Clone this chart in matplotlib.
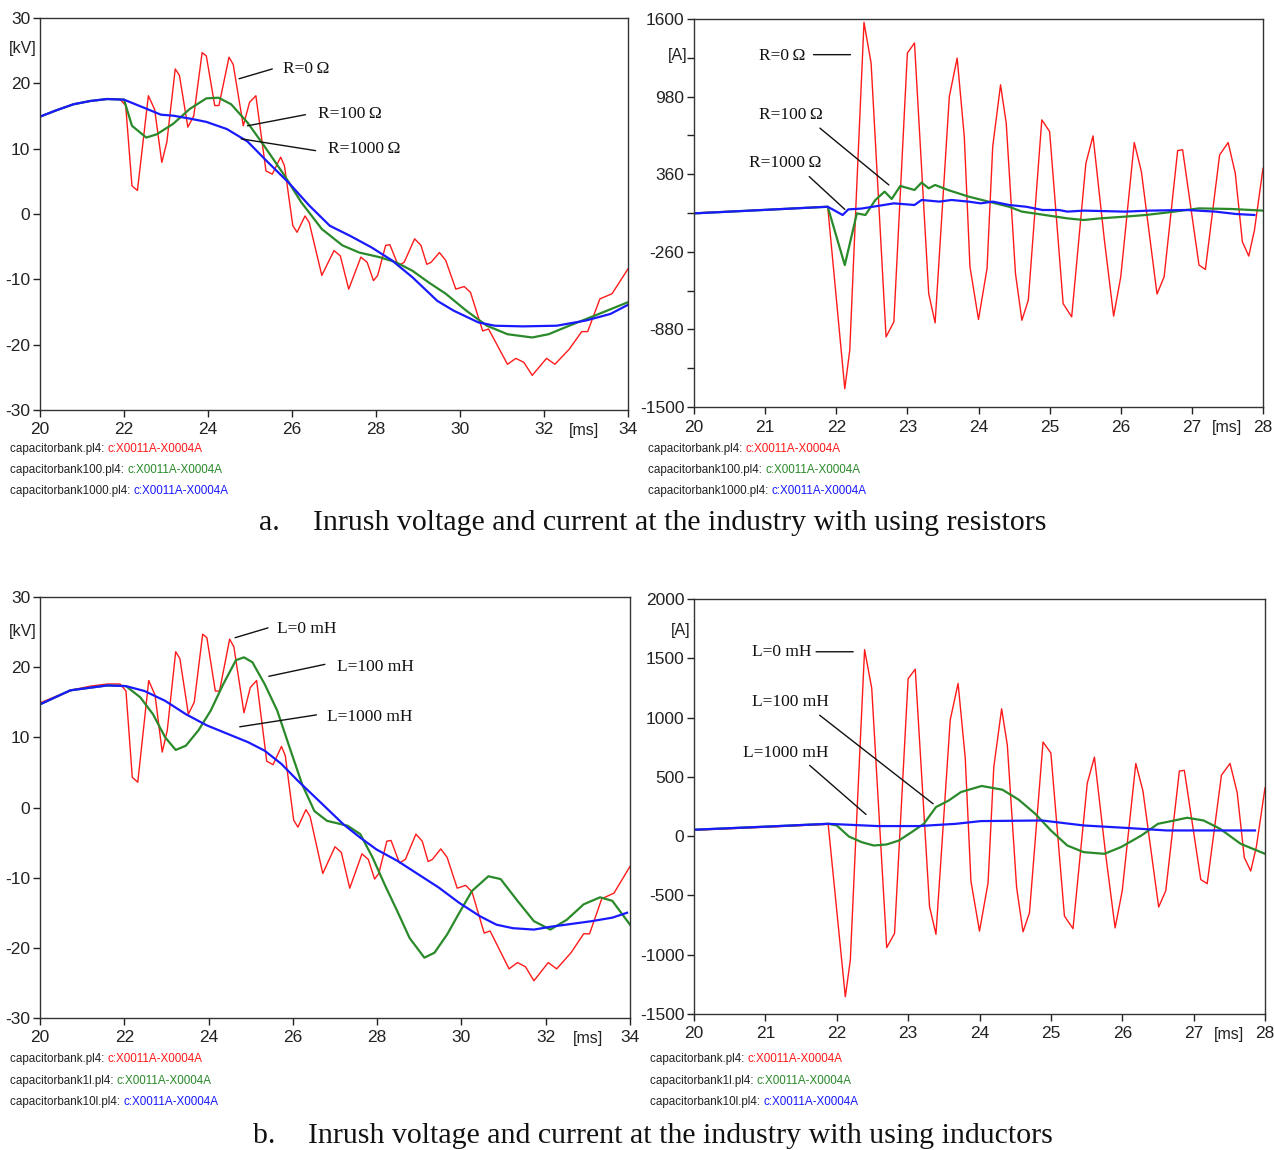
import matplotlib
matplotlib.use("Agg")
import matplotlib.pyplot as plt
from matplotlib.ticker import FixedLocator

# ---------------- data ----------------
# Voltage, R=0 / L=0 (capacitorbank.pl4) [kV]
t_v_red = [20, 20.4, 20.8, 21.2, 21.6, 21.9, 22.04, 22.19, 22.32, 22.58, 22.73, 22.9, 23.02, 23.22, 23.32,
           23.52, 23.66, 23.86, 23.96, 24.16, 24.26, 24.5, 24.6, 24.84, 24.99, 25.14, 25.38, 25.53, 25.73,
           25.82, 26.02, 26.12, 26.31, 26.41, 26.71, 27.0, 27.15, 27.35, 27.64, 27.79, 27.94, 28.04, 28.23,
           28.33, 28.53, 28.67, 28.92, 29.07, 29.21, 29.31, 29.51, 29.66, 29.9, 30.1, 30.25, 30.54, 30.68,
           31.13, 31.33, 31.52, 31.72, 32.06, 32.26, 32.6, 32.9, 33.04, 33.33, 33.62, 34]
v_red = [14.9, 15.9, 16.8, 17.3, 17.6, 17.6, 16.6, 4.3, 3.6, 18.1, 16.0, 7.9, 11.0, 22.2, 21.2,
         13.3, 15.0, 24.7, 24.2, 16.6, 16.6, 24.0, 22.9, 13.5, 17.1, 18.1, 6.6, 6.1, 8.7,
         7.4, -1.8, -2.8, -0.3, -1.3, -9.4, -5.6, -6.4, -11.5, -6.6, -7.4, -10.2, -9.4, -4.8,
         -4.7, -7.9, -7.4, -3.8, -4.8, -7.7, -7.4, -5.9, -7.1, -11.5, -11.1, -12.0, -17.9, -17.6,
         -23.0, -22.1, -22.7, -24.7, -22.1, -23.0, -20.7, -18.0, -18.0, -13.0, -12.2, -8.4]

# Voltage, R=100 ohm
t_v_r100 = [20, 20.4, 20.8, 21.2, 21.6, 22.0, 22.19, 22.53, 22.78, 23.17, 23.57, 23.96, 24.25, 24.55, 24.94,
            25.33, 25.82, 26.22, 26.71, 27.2, 27.6, 28.08, 28.48, 28.87, 29.26, 29.66, 30.15, 30.64, 31.13,
            31.72, 32.11, 32.6, 33.19, 34]
v_r100 = [14.9, 15.9, 16.8, 17.3, 17.6, 17.5, 13.5, 11.7, 12.2, 13.8, 16.1, 17.7, 17.8, 16.8, 14.0,
          10.5, 5.9, 1.8, -2.3, -4.8, -5.9, -6.6, -7.4, -8.7, -10.5, -12.2, -14.8, -17.1, -18.4,
          -18.9, -18.4, -17.1, -15.6, -13.5]

# Voltage, R=1000 ohm
t_v_r1000 = [20, 20.4, 20.8, 21.2, 21.6, 22.0, 22.5, 22.88, 23.17, 23.57, 23.96, 24.45, 24.94, 25.43, 25.92,
             26.41, 26.9, 27.4, 27.89, 28.38, 28.87, 29.46, 29.85, 30.44, 30.83, 31.5, 32.3, 33.0, 33.58, 34]
v_r1000 = [14.9, 15.9, 16.8, 17.3, 17.6, 17.5, 16.2, 15.2, 15.05, 14.6, 14.1, 13.0, 11.1, 7.9, 4.8,
           1.3, -1.8, -3.4, -5.1, -7.1, -9.7, -13.3, -14.8, -16.6, -17.1, -17.2, -17.1, -16.3, -15.3, -13.9]

# Voltage, L=100 mH
t_v_l100 = [20, 20.72, 21.6, 22.04, 22.38, 22.68, 22.97, 23.22, 23.46, 23.76, 24.05, 24.35, 24.65, 24.84,
            25.04, 25.33, 25.63, 25.92, 26.22, 26.51, 26.81, 27.3, 27.6, 27.89, 28.18, 28.48, 28.77, 29.12,
            29.36, 29.66, 29.95, 30.25, 30.64, 30.93, 31.33, 31.72, 32.11, 32.5, 32.9, 33.29, 33.58, 34]
v_l100 = [14.7, 16.7, 17.4, 17.3, 15.7, 13.3, 10.0, 8.2, 8.8, 11.0, 13.8, 17.6, 21.0, 21.4,
          20.7, 17.6, 13.8, 8.6, 3.3, -0.5, -1.9, -2.6, -3.8, -7.1, -11.0, -14.8, -18.6, -21.4,
          -20.7, -18.1, -15.0, -11.9, -9.8, -10.2, -13.3, -16.2, -17.4, -16.0, -13.8, -12.8, -13.3, -16.7]

# Voltage, L=1000 mH
t_v_l1000 = [20, 20.72, 21.6, 22.04, 22.48, 22.97, 23.46, 23.96, 24.45, 24.94, 25.33, 25.73, 26.12, 26.61,
             27.2, 27.6, 27.99, 28.48, 28.97, 29.46, 29.95, 30.44, 30.83, 31.22, 31.72, 32.11, 32.6, 33.09,
             33.58, 33.93]
v_l1000 = [14.7, 16.7, 17.4, 17.3, 16.6, 15.2, 13.3, 11.7, 10.5, 9.3, 8.1, 6.2, 3.8, 1.0,
           -2.4, -4.3, -6.0, -7.6, -9.5, -11.4, -13.6, -15.5, -16.7, -17.2, -17.4, -17.0, -16.6, -16.2,
           -15.7, -15.0]

# Current, R=0 / L=0 (capacitorbank.pl4) [A]
t_i_red = [20, 21.0, 21.88, 22.12, 22.19, 22.28, 22.39, 22.49, 22.7, 22.81, 23.0, 23.1, 23.3, 23.39, 23.59,
           23.7, 23.8, 23.88, 24.0, 24.12, 24.2, 24.31, 24.39, 24.52, 24.61, 24.7, 24.89, 25.0, 25.19, 25.31,
           25.51, 25.61, 25.77, 25.9, 26.0, 26.19, 26.29, 26.51, 26.61, 26.8, 26.87, 27.1, 27.19, 27.39,
           27.51, 27.61, 27.71, 27.8, 27.88, 28.0]
i_red = [50, 75, 100, -1354, -1047, 154, 1573, 1248, -940, -820, 1328, 1408, -594, -828, 981,
         1288, 661, -380, -801, -394, 581, 1074, 767, -434, -807, -647, 794, 701, -674, -780,
         447, 666, -166, -774, -460, 613, 381, -598, -460, 549, 555, -366, -401, 514,
         613, 368, -180, -294, -86, 407]

# Current, R=100 ohm
t_i_r100 = [20, 21.0, 21.88, 22.12, 22.29, 22.41, 22.55, 22.68, 22.78, 22.9, 23.1, 23.2, 23.3, 23.39, 23.57,
            23.86, 24.14, 24.43, 24.61, 24.78, 25.25, 25.48, 25.71, 26.06, 26.35, 26.64, 27.1, 27.56, 28.0]
i_r100 = [47, 75, 100, -366, 47, 34, 154, 221, 162, 266, 234, 293, 247, 274, 234,
          181, 141, 100, 61, 47, 7, -6, 7, 21, 34, 53, 87, 82, 69]

# Current, R=1000 ohm
t_i_r1000 = [20, 21.0, 21.88, 22.09, 22.17, 22.35, 22.58, 22.81, 23.1, 23.2, 23.45, 23.62, 23.86, 24.03,
             24.2, 24.43, 24.67, 24.9, 25.13, 25.25, 25.48, 26.06, 26.4, 26.93, 27.33, 27.62, 27.88]
i_r1000 = [47, 75, 100, 34, 79, 85, 106, 127, 114, 154, 141, 154, 141, 127,
           141, 114, 100, 74, 74, 61, 69, 61, 69, 74, 61, 42, 34]

# Current, L=100 mH
t_i_l100 = [20, 21.0, 21.88, 22.0, 22.17, 22.35, 22.52, 22.7, 22.87, 23.05, 23.22, 23.39, 23.57, 23.74,
            24.03, 24.32, 24.55, 24.78, 25.0, 25.23, 25.46, 25.75, 25.98, 26.27, 26.5, 26.73, 26.91, 27.14,
            27.37, 27.66, 28.0]
i_l100 = [54, 80, 104, 90, -3, -51, -79, -70, -37, 34, 104, 245, 301, 372,
          423, 392, 307, 189, 48, -79, -135, -149, -93, 6, 104, 132, 155, 132,
          62, -65, -149]

# Current, L=1000 mH
t_i_l1000 = [20, 21.0, 21.88, 22.57, 23.15, 23.67, 24.02, 24.88, 25.46, 26.04, 26.62, 27.86]
i_l1000 = [54, 80, 104, 85, 85, 104, 127, 132, 90, 70, 48, 48]

v_ticks = [-30, -20, -10, 0, 10, 20, 30]
v_xticks = [20, 22, 24, 26, 28, 30, 32, 34]
i_xticks = [20, 21, 22, 23, 24, 25, 26, 27, 28]
i_ticks_r = [-1500, -880, -260, 360, 980, 1600]
i_ticks_l = [-1500, -1000, -500, 0, 500, 1000, 1500, 2000]

legend_files_r = ["capacitorbank.pl4: ", "capacitorbank100.pl4: ", "capacitorbank1000.pl4: "]
legend_files_l = ["capacitorbank.pl4: ", "capacitorbank1l.pl4: ", "capacitorbank10l.pl4: "]
legend_signal = "c:X0011A-X0004A"

labels_r = ["R=0\u2009\u03a9", "R=100\u2009\u03a9", "R=1000\u2009\u03a9"]
labels_l = ["L=0 mH", "L=100 mH", "L=1000 mH"]
caption_a = ("a.", "Inrush voltage and current at the industry with using resistors")
caption_b = ("b.", "Inrush voltage and current at the industry with using inductors")

# ---------------- style ----------------
RED = "#ff1a1a"
GREEN = "#2a8a2a"
BLUE = "#1a1aff"
SANS = ["Liberation Sans Narrow", "Liberation Sans", "DejaVu Sans"]
SERIF = ["Liberation Serif", "DejaVu Serif"]
plt.rcParams["font.family"] = SANS
plt.rcParams["axes.unicode_minus"] = False

W, H = 1274, 1150
fig = plt.figure(figsize=(W / 100, H / 100), dpi=100)


def px_axes(l, t, r, b):
    return fig.add_axes([l / W, 1 - b / H, (r - l) / W, (b - t) / H])


def style(ax, xlim, ylim, xticks, yticks, unit, unit_pos, ms_x):
    ax.set_xlim(*xlim)
    ax.set_ylim(*ylim)
    ax.set_xticks(xticks)
    ax.set_yticks(yticks)
    ax.tick_params(direction="out", length=5, width=1, labelsize=12.5, colors="#222222", pad=2)
    ax.tick_params(axis="x", pad=4)
    for s in ax.spines.values():
        s.set_color("#333333")
        s.set_linewidth(1.0)
    ax.text(unit_pos[0], unit_pos[1], unit, transform=ax.transAxes, ha="center", va="center",
            fontsize=11.5, color="#222222")
    ax.annotate("[ms]", xy=(ms_x, 0), xycoords=("data", "axes fraction"), xytext=(0, -9.3),
                textcoords="offset points", ha="center", va="top", fontsize=11.5, color="#222222",
                annotation_clip=False)


def pointer(ax, label, text_xy, line_from, line_to):
    ax.text(text_xy[0], text_xy[1], label, ha="left", va="center", fontsize=12.5,
            family=SERIF, color="#111111")
    ax.annotate("", xy=line_to, xytext=line_from,
                arrowprops=dict(arrowstyle="-", color="#111111", lw=1.0, shrinkA=0, shrinkB=0))


def legend(ax, x_px, y_px, files):
    colors = [RED, GREEN, BLUE]
    for k, (fname, c) in enumerate(zip(files, colors)):
        tx = fig.text(x_px / W, 1 - (y_px[k]) / H, fname, ha="left", va="center", fontsize=8.4,
                      color="#222222")
        ax.annotate(legend_signal, xy=(1, 0.5), xycoords=tx, ha="left", va="center", fontsize=8.4,
                    color=c, annotation_clip=False)


# ---- a. voltage (resistors)
ax1 = px_axes(40, 18, 628, 410)
ax1.plot(t_v_red, v_red, color=RED, lw=1.0)
ax1.plot(t_v_r100, v_r100, color=GREEN, lw=1.6)
ax1.plot(t_v_r1000, v_r1000, color=BLUE, lw=1.6)
style(ax1, (20, 34), (-30, 30), v_xticks, v_ticks, "[kV]", (-0.03, 0.923), 32.95)
pointer(ax1, labels_r[0], (25.78, 22.2), (25.53, 22.2), (24.74, 20.7))
pointer(ax1, labels_r[1], (26.61, 15.3), (26.32, 15.2), (24.94, 13.5))
pointer(ax1, labels_r[2], (26.86, 9.9), (26.56, 9.7), (24.79, 11.5))
legend(ax1, 10, [449, 470, 491], legend_files_r)

# ---- a. current (resistors)
ax2 = px_axes(694, 19, 1263, 407)
ax2.plot(t_i_red, i_red, color=RED, lw=1.0)
ax2.plot(t_i_r100, i_r100, color=GREEN, lw=1.6)
ax2.plot(t_i_r1000, i_r1000, color=BLUE, lw=1.6)
style(ax2, (20, 28), (-1500, 1600), i_xticks, i_ticks_r, "[A]", (-0.028, 0.907), 27.5)
ax2.yaxis.set_minor_locator(FixedLocator([(a + b) / 2 for a, b in zip(i_ticks_r[:-1], i_ticks_r[1:])]))
ax2.tick_params(which="minor", direction="out", length=5, width=1, colors="#222222")
pointer(ax2, labels_r[0], (20.91, 1301), (21.68, 1315), (22.2, 1315))
pointer(ax2, labels_r[1], (20.91, 834), (21.77, 728), (22.74, 274))
pointer(ax2, labels_r[2], (20.78, 447), (21.62, 341), (22.12, 79))
legend(ax2, 648, [449, 470, 491], legend_files_r)

# ---- b. voltage (inductors)
ax3 = px_axes(40, 597, 630, 1018)
ax3.plot(t_v_red, v_red, color=RED, lw=1.0)
ax3.plot(t_v_l100, v_l100, color=GREEN, lw=1.6)
ax3.plot(t_v_l1000, v_l1000, color=BLUE, lw=1.6)
style(ax3, (20, 34), (-30, 30), v_xticks, v_ticks, "[kV]", (-0.03, 0.917), 33.0)
pointer(ax3, labels_l[0], (25.63, 25.5), (25.41, 25.6), (24.63, 24.2))
pointer(ax3, labels_l[1], (27.05, 20.0), (26.76, 20.4), (25.43, 18.7))
pointer(ax3, labels_l[2], (26.81, 12.9), (26.56, 13.2), (24.74, 11.5))
legend(ax3, 10, [1059, 1081, 1102], legend_files_l)

# ---- b. current (inductors)
ax4 = px_axes(694, 599, 1265, 1014)
ax4.plot(t_i_red, i_red, color=RED, lw=1.0)
ax4.plot(t_i_l100, i_l100, color=GREEN, lw=1.6)
ax4.plot(t_i_l1000, i_l1000, color=BLUE, lw=1.6)
style(ax4, (20, 28), (-1500, 2000), i_xticks, i_ticks_l, "[A]", (-0.023, 0.925), 27.5)
pointer(ax4, labels_l[0], (20.81, 1555), (21.71, 1555), (22.23, 1555))
pointer(ax4, labels_l[1], (20.81, 1132), (21.76, 1020), (23.35, 273))
pointer(ax4, labels_l[2], (20.68, 701), (21.62, 597), (22.41, 183))
legend(ax4, 650, [1059, 1081, 1102], legend_files_l)

# ---- captions
for (lab, txt), y, xl, xt in ((caption_a, 523, 259, 313), (caption_b, 1136, 253, 308)):
    fig.text(xl / W, 1 - y / H, lab, ha="left", va="center", fontsize=21.5, family=SERIF, color="#111111")
    fig.text(xt / W, 1 - y / H, txt, ha="left", va="center", fontsize=21.5, family=SERIF, color="#111111")

fig.savefig("out.png", dpi=100, facecolor="white")
